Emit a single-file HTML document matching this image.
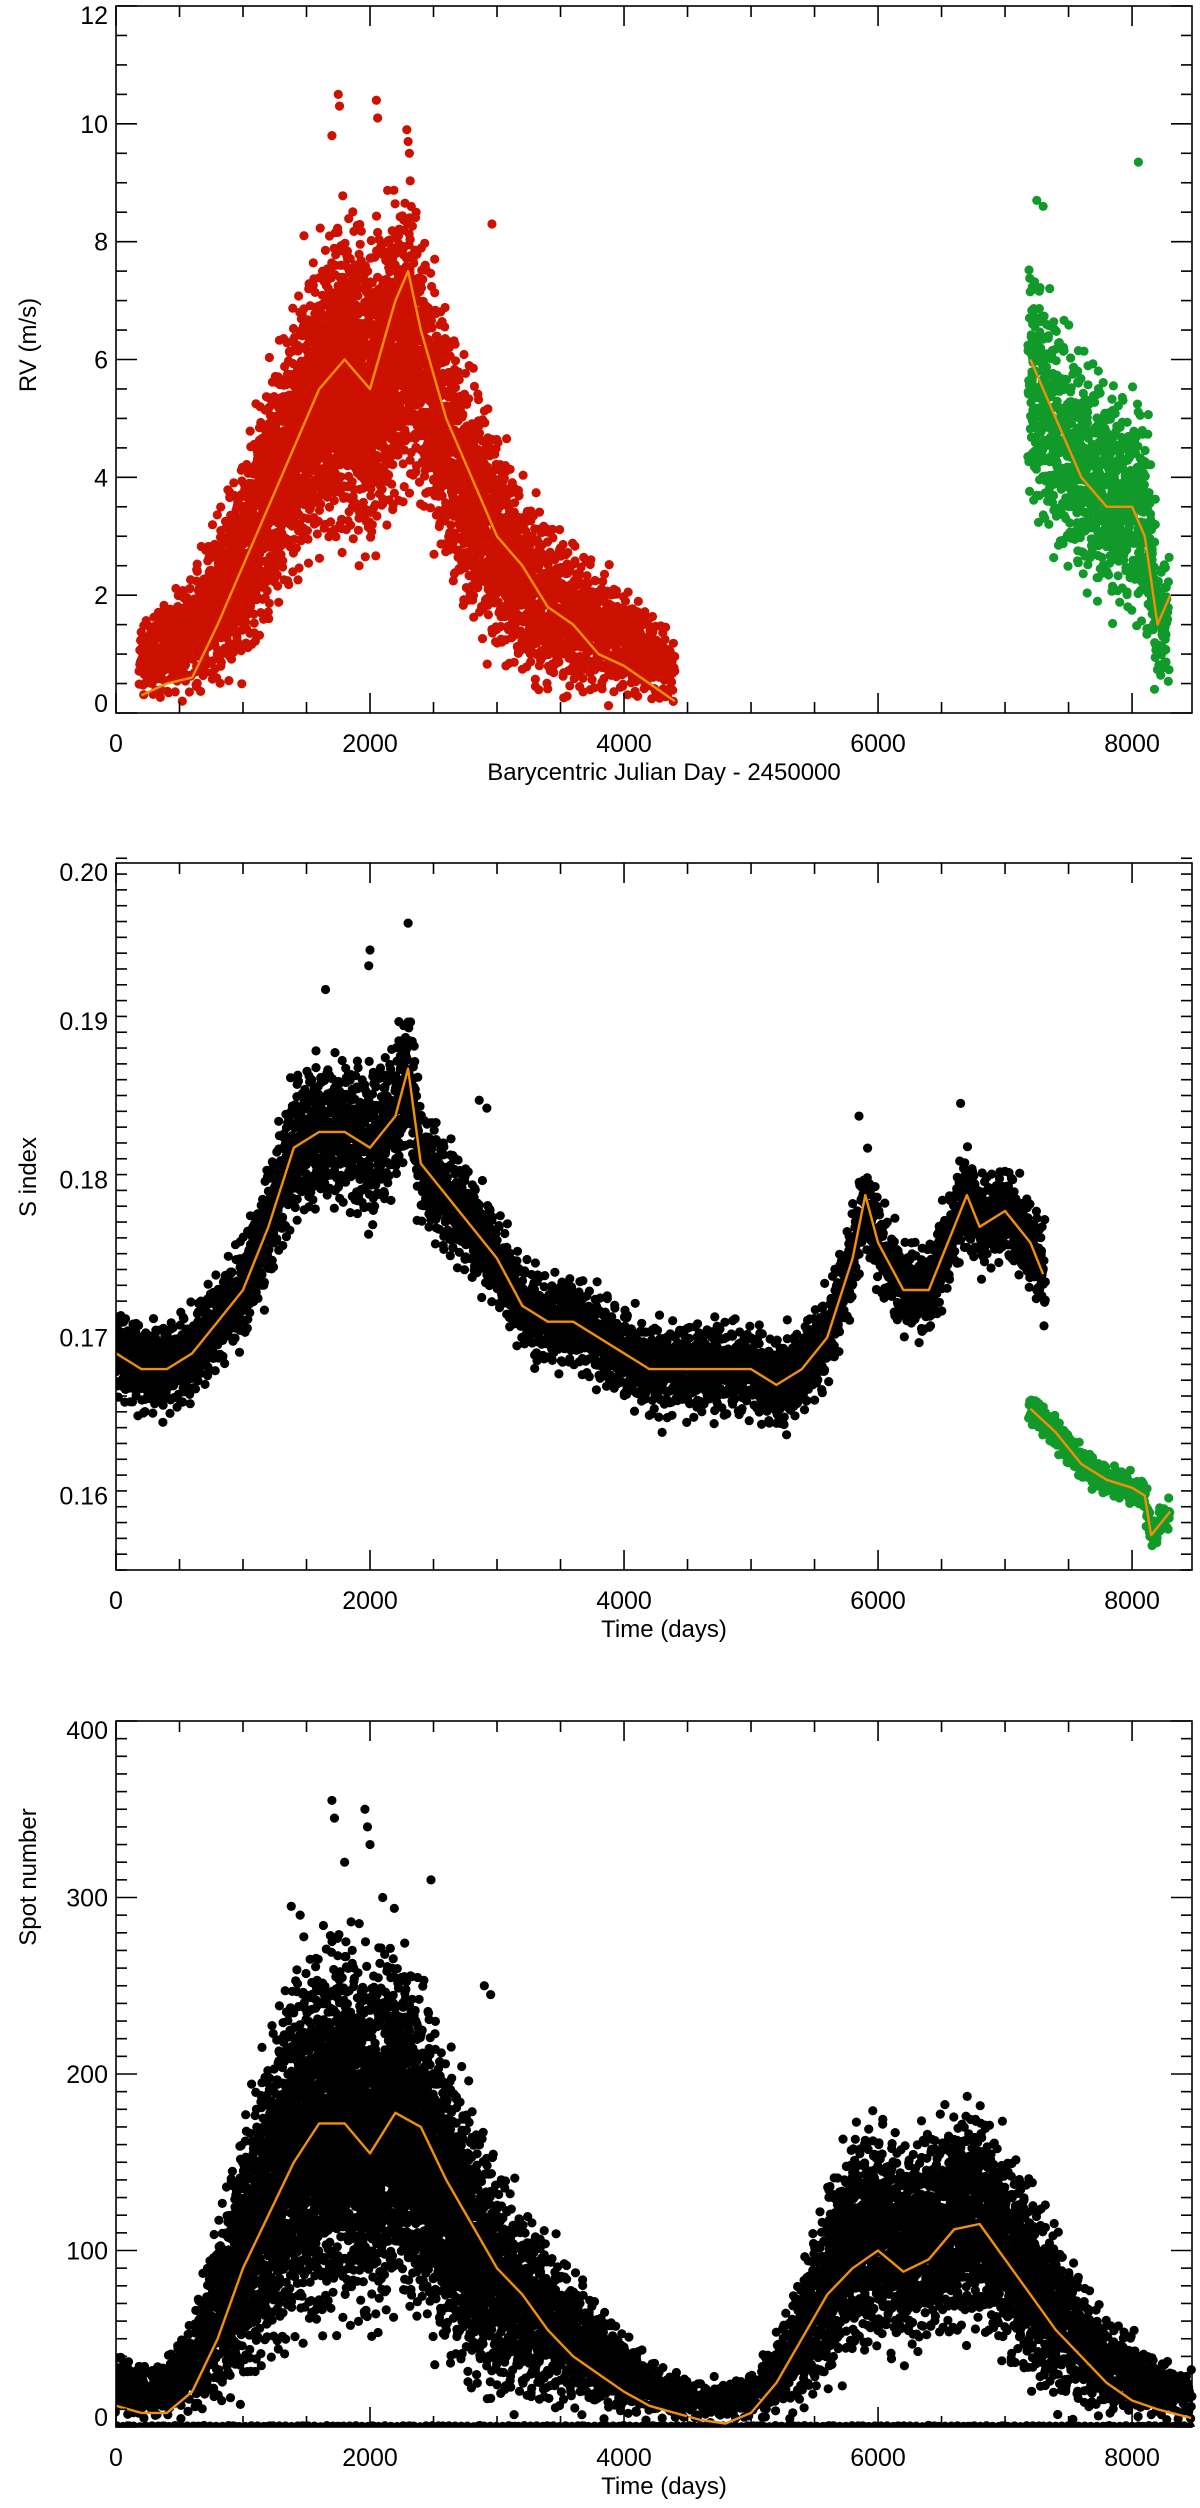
<!DOCTYPE html>
<html><head><meta charset="utf-8"><title>RV, S index and spot number</title>
<style>
html,body{margin:0;padding:0;background:#fff}
svg{display:block}
text{font-family:"Liberation Sans",sans-serif;fill:#000}
</style></head>
<body>
<svg id="chart" width="1200" height="2508" viewBox="0 0 1200 2508" xmlns="http://www.w3.org/2000/svg"></svg>
<script>
// ---------- Panel 1: RV ----------
const rvRedDays   = [200,400,600,800,1000,1200,1400,1600,1800,2000,2200,2300,2400,2600,2800,3000,3200,3400,3600,3800,4000,4200,4400];
const rvRedLo     = [0,0,0,0.1,0.3,1,1.8,2.2,2.2,2,2.8,3.3,3,2,1,0.5,0.2,0,0,0,0,0,0];
const rvRedHi     = [1.8,2.2,2.7,3.8,4.8,6.3,7.4,8.5,9.3,8.8,9.4,9.6,8.8,7.3,6.3,5.3,4.3,3.7,3.2,2.8,2.4,2,1.4];
const rvRedCurve  = [0.3,0.5,0.6,1.5,2.5,3.5,4.5,5.5,6,5.5,7,7.5,6.5,5,4,3,2.5,1.8,1.5,1,0.8,0.5,0.2];
const rvRedOutDays= [1750,1760,2050,2060,2290,2300,2310,1480,2960,1700];
const rvRedOutVal = [10.5,10.3,10.4,10.1,9.9,9.7,9.5,8.1,8.3,9.8];
const rvGrnDays   = [7200,7400,7600,7800,8000,8100,8200,8300];
const rvGrnLo     = [2.8,2.2,1.7,1.3,1.2,0.8,0,0];
const rvGrnHi     = [8.5,7.4,6.7,6.2,5.8,6,3.2,3.2];
const rvGrnCurve  = [6,5,4,3.5,3.5,3,1.5,2];
const rvGrnOutDays= [8050,7250,7300];
const rvGrnOutVal = [9.35,8.7,8.6];
const rvYTicks    = [0,2,4,6,8,10,12];
const rvXTicks    = [0,2000,4000,6000,8000];

// ---------- Panel 2: S index ----------
const sDays   = [0,200,400,600,800,1000,1200,1400,1600,1800,2000,2200,2300,2400,2600,2800,3000,3200,3400,3600,3800,4000,4200,4400,4600,4800,5000,5200,5400,5600,5800,5900,6000,6200,6400,6600,6700,6800,7000,7200,7300];
const sCurve  = [.169,.168,.168,.169,.171,.173,.177,.182,.183,.183,.182,.184,.187,.181,.179,.177,.175,.172,.171,.171,.170,.169,.168,.168,.168,.168,.168,.167,.168,.170,.175,.179,.176,.173,.173,.177,.179,.177,.178,.176,.174];
const sSpread = [.004,.004,.004,.004,.004,.0045,.005,.006,.006,.006,.0065,.006,.006,.005,.005,.0045,.004,.004,.004,.004,.004,.004,.004,.004,.004,.004,.004,.004,.004,.004,.004,.004,.004,.004,.004,.004,.0045,.004,.004,.004,.004];
const sOutDays= [2300,2000,1990,1650,2860,2920,4300,5850,6650,5260];
const sOutVal = [.1962,.1945,.1935,.192,.185,.1845,.164,.184,.1848,.1645];
const sGrnDays  = [7200,7400,7600,7800,8000,8100,8150,8200,8300];
const sGrnCurve = [.1655,.164,.162,.161,.1605,.160,.1575,.158,.159];
const sGrnSpread= [.0013,.0014,.0014,.0013,.0013,.0013,.0013,.0013,.0013];
const sYTicks = [0.16,0.17,0.18,0.19,0.20];
const sXTicks = [0,2000,4000,6000,8000];

// ---------- Panel 3: Spot number ----------
const spDays  = [0,200,400,600,800,1000,1200,1400,1600,1800,2000,2200,2400,2600,2800,3000,3200,3400,3600,3800,4000,4200,4400,4600,4800,5000,5200,5400,5600,5800,6000,6200,6400,6600,6800,7000,7200,7400,7600,7800,8000,8200,8472];
const spLo    = [0,0,0,0,0,5,15,30,30,40,30,50,40,20,5,0,0,0,0,0,0,0,0,0,0,0,0,0,10,25,30,25,35,35,40,25,10,0,0,0,0,0,0];
const spHi    = [50,40,45,70,130,190,240,285,300,310,290,305,275,235,205,165,140,120,100,80,60,45,35,30,30,35,60,100,150,185,190,175,185,195,200,175,155,125,95,70,60,45,35];
const spCurve = [12,8,8,20,50,90,120,150,172,172,155,178,170,140,115,90,75,55,40,30,20,12,8,4,2,8,25,50,75,90,100,88,95,112,115,95,75,55,40,25,15,10,5];
const spOutDays=[1700,1720,1960,1980,2000,2480,2900,2950,1380,1450,1800,2100];
const spOutVal =[355,345,350,340,330,310,250,245,295,290,320,300];
const spZeroDays=[0,8472];
const spZeroLo =[0,0];
const spZeroHi =[1,1];
const spYTicks = [0,100,200,300,400];
const spXTicks = [0,2000,4000,6000,8000];

const NS='http://www.w3.org/2000/svg';
const svg=document.getElementById('chart');
function el(tag,attrs,parent){const e=document.createElementNS(NS,tag);for(const k in attrs)e.setAttribute(k,attrs[k]);(parent||svg).appendChild(e);return e;}
function interp(xs,ys,x){if(x<=xs[0])return ys[0];for(let i=1;i<xs.length;i++){if(x<=xs[i]){const f=(x-xs[i-1])/(xs[i]-xs[i-1]);return ys[i-1]+f*(ys[i]-ys[i-1]);}}return ys[ys.length-1];}
function vdc(n,b){let v=0,d=1;while(n>0){d*=b;v+=(n%b)/d;n=Math.floor(n/b);}return v;}

function makePanel(cfg){
  const {L,R,T,B,xmin,xmax,ymin,ymax}=cfg;
  const sx=v=>L+(v-xmin)/(xmax-xmin)*(R-L);
  const sy=v=>B-(v-ymin)/(ymax-ymin)*(B-T);
  const g=el('g',{});
  
  
  const clip=el('clipPath',{id:cfg.name+'-clip'},g);
  el('rect',{x:L,y:T-6,width:R-L+6,height:B-T+6},clip);
  const marks=el('g',{'clip-path':'url(#'+cfg.name+'-clip)'},g);
  
  
  return {g,marks,sx,sy,cfg};
}

function cloud(P,days,loArr,hiArr,color,step,spacing,name,seed){
  const grp=el('g',{fill:color},P.marks);
  
  
  let k=seed||1;
  const x0=P.sx(days[0]), x1=P.sx(days[days.length-1]);
  for(let px=x0;px<=x1;px+=step){
    const t=P.cfg.xmin+(px-P.cfg.L)/(P.cfg.R-P.cfg.L)*(P.cfg.xmax-P.cfg.xmin);
    const lo=interp(days,loArr,t), hi=interp(days,hiArr,t);
    const ylo=P.sy(lo), yhi=P.sy(hi);
    const h=Math.abs(ylo-yhi);
    const n=Math.max(1,Math.round(h/spacing));
    for(let j=0;j<n;j++){
      k++;
      const u=(vdc(k,2)+vdc(k,3))/2*0.6+vdc(k,5)*0.4;
      const jx=(vdc(k,7)-0.5)*step*1.6;
      const c=el('circle',{cx:(px+jx).toFixed(1),cy:(yhi+u*h).toFixed(1),r:4.6},grp);
    }
  }
}
function points(P,days,vals,color,name){
  const grp=el('g',{fill:color},P.marks);
  
  
  days.forEach((d,i)=>{const c=el('circle',{cx:P.sx(d),cy:P.sy(vals[i]),r:4.6},grp);});
}
function line(P,days,vals,name){
  const d=days.map((t,i)=>(i?'L':'M')+P.sx(t).toFixed(1)+','+P.sy(vals[i]).toFixed(1)).join('');
  const p=el('path',{d,fill:'none',stroke:'#f0900a','stroke-width':2.4,'stroke-linejoin':'round'},P.marks);
  
  
}
function axes(P,xTicks,xMinor,yTicks,yMinor,yFmt,xTitle,yTitle,yTitleY){
  const {L,R,T,B,xmin,xmax,ymin,ymax}=P.cfg;
  const a=el('g',{stroke:'#000','stroke-width':1.6,fill:'none'},P.g);
  
  
  el('rect',{x:L,y:T,width:R-L,height:B-T},a);
  for(let v=xmin;v<=xmax+1e-9;v+=xMinor){
    const big=xTicks.some(t=>Math.abs(t-v)<1e-6);
    const len=big?20:11,x=P.sx(v);
    el('line',{x1:x,y1:B,x2:x,y2:B-len},a);el('line',{x1:x,y1:T,x2:x,y2:T+len},a);
  }
  const nY=Math.round((ymax-ymin)/yMinor);
  for(let i=0;i<=nY;i++){
    const v=ymin+i*yMinor;
    const big=yTicks.some(t=>Math.abs(t-v)<yMinor*0.1);
    const len=big?21:11,y=P.sy(v);
    el('line',{x1:L,y1:y,x2:L+len,y2:y},a);el('line',{x1:R,y1:y,x2:R-len,y2:y},a);
  }
  xTicks.forEach(v=>{const t=el('text',{x:P.sx(v),y:B+39,'font-size':25,'text-anchor':'middle'},P.g);t.textContent=v;
    });
  yTicks.forEach(v=>{let y=P.sy(v)+9;if(Math.abs(v-ymax)<1e-9)y=Math.max(y,T+18);if(v<=ymin+1e-9||P.sy(v)>B-5)y=Math.min(y,B-1);
    const t=el('text',{x:L-8,y:y,'font-size':25,'text-anchor':'end'},P.g);t.textContent=yFmt(v);
    });
  const xt=el('text',{x:(L+R)/2+10,y:B+67,'font-size':24,'text-anchor':'middle'},P.g);xt.textContent=xTitle;
  
  const yt=el('text',{x:0,y:0,'font-size':24,'text-anchor':'middle',transform:'translate(36,'+yTitleY+') rotate(-90)'},P.g);yt.textContent=yTitle;
  
}

// Panel 1
const P1=makePanel({name:'rv-panel',L:116,R:1192,T:6,B:713,xmin:0,xmax:8472,ymin:0,ymax:12});
cloud(P1,rvRedDays,rvRedLo,rvRedHi,'#cc1100',3,8,'rv-red-points',3);
points(P1,rvRedOutDays,rvRedOutVal,'#cc1100','rv-red-outliers');
cloud(P1,rvGrnDays,rvGrnLo,rvGrnHi,'#119a2a',3.5,10,'rv-green-points',7);
points(P1,rvGrnOutDays,rvGrnOutVal,'#119a2a','rv-green-outliers');
line(P1,rvRedDays,rvRedCurve,'rv-red-smooth-line');
line(P1,rvGrnDays,rvGrnCurve,'rv-green-smooth-line');
axes(P1,rvXTicks,500,rvYTicks,0.5,v=>String(v),'Barycentric Julian Day - 2450000','RV (m/s)',345);

// Panel 2
const P2=makePanel({name:'s-index-panel',L:116,R:1192,T:863,B:1570,xmin:0,xmax:8472,ymin:0.1553,ymax:0.20});
const sLo=sCurve.map((c,i)=>c-sSpread[i]), sHi=sCurve.map((c,i)=>c+sSpread[i]);
cloud(P2,sDays,sLo,sHi,'#000',3,9,'s-index-black-points',5);
points(P2,sOutDays,sOutVal,'#000','s-index-outliers');
const sgLo=sGrnCurve.map((c,i)=>c-sGrnSpread[i]), sgHi=sGrnCurve.map((c,i)=>c+sGrnSpread[i]);
cloud(P2,sGrnDays,sgLo,sgHi,'#119a2a',2.5,5,'s-index-green-points',11);
line(P2,sDays,sCurve,'s-index-black-smooth-line');
line(P2,sGrnDays,sGrnCurve,'s-index-green-smooth-line');
axes(P2,sXTicks,500,sYTicks,0.001,v=>v.toFixed(2),'Time (days)','S index',1177);

// Panel 3
const P3=makePanel({name:'spot-panel',L:116,R:1192,T:1721,B:2427,xmin:0,xmax:8472,ymin:0,ymax:400});
cloud(P3,spDays,spLo,spHi,'#000',3,8,'spot-number-points',13);
cloud(P3,spZeroDays,spZeroLo,spZeroHi,'#000',5,8,'spot-number-zero-points',17);
points(P3,spOutDays,spOutVal,'#000','spot-number-outliers');
line(P3,spDays,spCurve,'spot-number-smooth-line');
axes(P3,spXTicks,500,spYTicks,10,v=>String(v),'Time (days)','Spot number',1877);
</script>
</body></html>
